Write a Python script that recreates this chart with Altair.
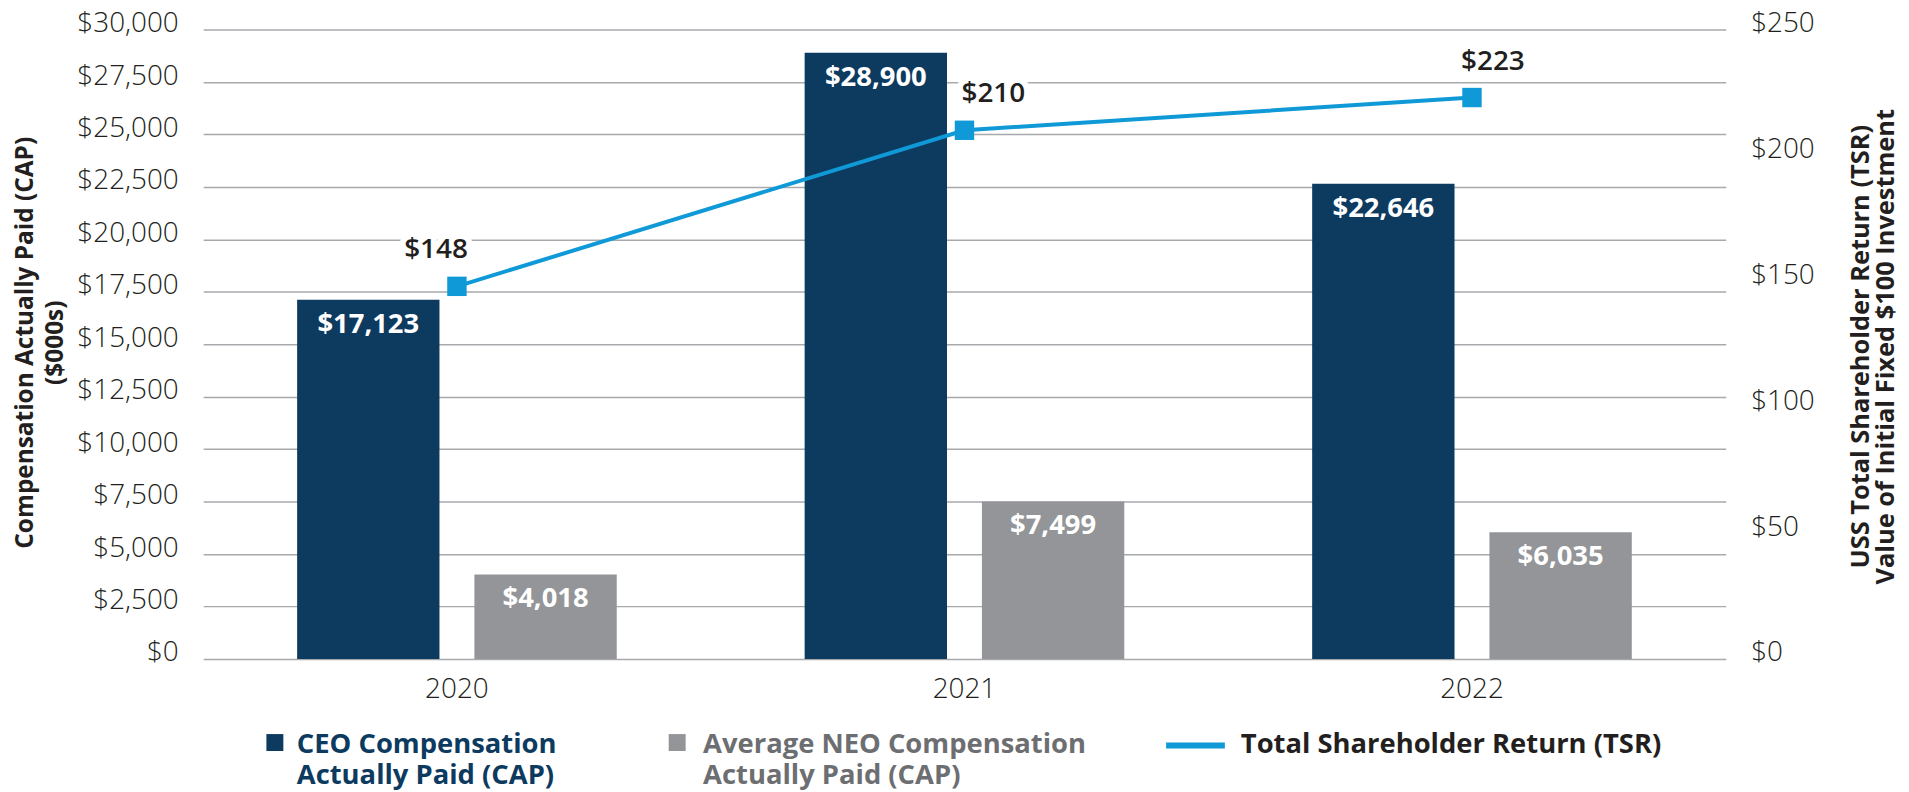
import altair as alt
import pandas as pd

# ---- data ----
years = ["2020", "2021", "2022"]
ceo_cap = [17123, 28900, 22646]
neo_cap = [4018, 7499, 6035]
tsr = [148, 210, 223]
bar_series = ["CEO Compensation Actually Paid (CAP)",
              "Average NEO Compensation Actually Paid (CAP)"]
tsr_series = "Total Shareholder Return (TSR)"
left_ticks = [0, 2500, 5000, 7500, 10000, 12500, 15000, 17500, 20000,
              22500, 25000, 27500, 30000]
right_ticks = [0, 50, 100, 150, 200, 250]

bars_df = pd.DataFrame({
    "year": years * 2,
    "series": [bar_series[0]] * 3 + [bar_series[1]] * 3,
    "value": ceo_cap + neo_cap,
})
tsr_df = pd.DataFrame({"year": years, "tsr": tsr, "series": [tsr_series] * 3})
legend_df = pd.DataFrame({
    "series": bar_series,
    "label": [s.replace(" Actually", "\nActually") for s in bar_series],
})
tsr_legend_df = pd.DataFrame({"series": [tsr_series]})

NAVY = "#0d3a5f"
GRAY = "#939598"
GRAY_TEXT = "#6d6e71"
BLUE = "#0f9ad7"
TEXT = "#231f20"
GRID = "#a7a9ac"
FONT = "Open Sans"

W, H = 1529, 632
TICK_FS = 28

x_enc = alt.X("year:N",
              scale=alt.Scale(paddingInner=0, paddingOuter=0),
              axis=alt.Axis(title=None, labelAngle=0, labelFontSize=TICK_FS,
                            labelFontWeight=300, labelColor=TEXT,
                            labelPadding=17, domain=False, ticks=False,
                            grid=False))

xoff_enc = alt.XOffset("series:N",
                       scale=alt.Scale(domain=bar_series, paddingInner=0.197,
                                       paddingOuter=0.53))

y_left = alt.Y("value:Q",
               scale=alt.Scale(domain=[0, 30000]),
               axis=alt.Axis(values=left_ticks, format="$,.0f",
                             labelFontSize=TICK_FS, labelFontWeight=300,
                             labelColor=TEXT, labelPadding=25,
                             labelBaseline="alphabetic", labelOffset=2,
                             ticks=False, domain=False, grid=True,
                             gridColor=GRID, gridWidth=1.5,
                             title=["Compensation Actually Paid (CAP)", "($000s)"],
                             titleFontSize=24.5, titleFontWeight="bold",
                             titleColor=TEXT, titleAngle=270,
                             titleBaseline="top", titleAlign="center",
                             titleLineHeight=30,
                             titleX=-190, titleY=H / 2 - 2))

y_right = alt.Y("tsr:Q",
                scale=alt.Scale(domain=[0, 250]),
                axis=alt.Axis(orient="right", values=right_ticks,
                              format="$,.0f", labelFontSize=TICK_FS,
                              labelFontWeight=300, labelColor=TEXT,
                              labelPadding=25, labelBaseline="alphabetic",
                              labelOffset=2, ticks=False, domain=False,
                              grid=False,
                              title=["USS Total Shareholder Return (TSR)",
                                     "Value of Initial Fixed $100 Investment"],
                              titleFontSize=25.5, titleFontWeight="bold",
                              titleColor=TEXT, titleAngle=270,
                              titleBaseline="top", titleAlign="center",
                              titleLineHeight=25,
                              titleX=123, titleY=H / 2 + 2))

color_enc = alt.Color("series:N",
                      scale=alt.Scale(domain=bar_series, range=[NAVY, GRAY]),
                      legend=None)

bars = alt.Chart(bars_df).mark_bar().encode(
    x=x_enc, xOffset=xoff_enc, y=y_left, color=color_enc,
)

bar_labels = alt.Chart(bars_df).mark_text(
    dy=25, color="white", fontSize=27.5, fontWeight="bold", baseline="middle"
).encode(
    x=x_enc, xOffset=xoff_enc, y=y_left,
    text=alt.Text("value:Q", format="$,.0f"),
)

# ---- legend (drawn below the plot) ----
LEG_FS = 27.5
LEG_Y = 718
legend_layers = []
legend_pos = [(72, 94, NAVY), (476, 502, GRAY_TEXT)]  # square centre x, text x, text colour
for s, (sq_x, tx_x, tcol) in zip(bar_series, legend_pos):
    base = alt.Chart(legend_df).transform_filter(alt.datum.series == s)
    legend_layers.append(
        base.mark_square(size=290, opacity=1).encode(
            x=alt.value(sq_x), y=alt.value(LEG_Y - 2), color=color_enc))
    legend_layers.append(
        base.mark_text(align="left", baseline="middle", lineBreak="\n",
                       lineHeight=31.5, fontSize=LEG_FS, fontWeight="bold",
                       color=tcol).encode(
            x=alt.value(tx_x), y=alt.value(LEG_Y), text="label:N"))

tsr_leg_line = alt.Chart(tsr_legend_df).mark_rule(
    strokeWidth=6, color=BLUE).encode(
    x=alt.value(967), x2=alt.value(1026), y=alt.value(LEG_Y + 1))
tsr_leg_text = alt.Chart(tsr_legend_df).mark_text(
    align="left", baseline="middle", fontSize=LEG_FS, fontWeight="bold",
    color=TEXT).encode(x=alt.value(1042), y=alt.value(LEG_Y), text="series:N")

line = alt.Chart(tsr_df).mark_line(strokeWidth=4, color=BLUE).encode(
    x=x_enc, y=y_right,
)

points = alt.Chart(tsr_df).mark_point(
    shape="square", filled=True, size=380, color=BLUE, opacity=1
).encode(x=x_enc, y=y_right)

label_offsets = {"2020": -21, "2021": 29, "2022": 21}
tsr_label_layers = []
for yr in years:
    base = alt.Chart(tsr_df).transform_filter(alt.datum.year == yr)
    halo = base.mark_text(dx=label_offsets[yr], dy=-36, fontSize=28,
                          fontWeight=600, color="white", stroke="white",
                          strokeWidth=12, strokeJoin="round",
                          baseline="middle").encode(
        x=x_enc, y=y_right, text=alt.Text("tsr:Q", format="$,.0f"))
    txt = base.mark_text(dx=label_offsets[yr], dy=-36, fontSize=28,
                         fontWeight=600, color=TEXT,
                         baseline="middle").encode(
        x=x_enc, y=y_right, text=alt.Text("tsr:Q", format="$,.0f"))
    tsr_label_layers += [halo, txt]

left_layer = alt.layer(bars, bar_labels, *legend_layers, tsr_leg_line, tsr_leg_text)
right_layer = alt.layer(line, points, *tsr_label_layers)

chart = alt.layer(left_layer, right_layer).resolve_scale(
    y="independent"
).properties(
    width=W, height=H,
    padding={"left": 196, "top": 20, "right": 176, "bottom": 132},
    autosize=alt.AutoSizeParams(type="none"),
).configure(font=FONT).configure_view(stroke=None)

chart.save("out.html", embed_options={"renderer": "svg", "actions": False})
